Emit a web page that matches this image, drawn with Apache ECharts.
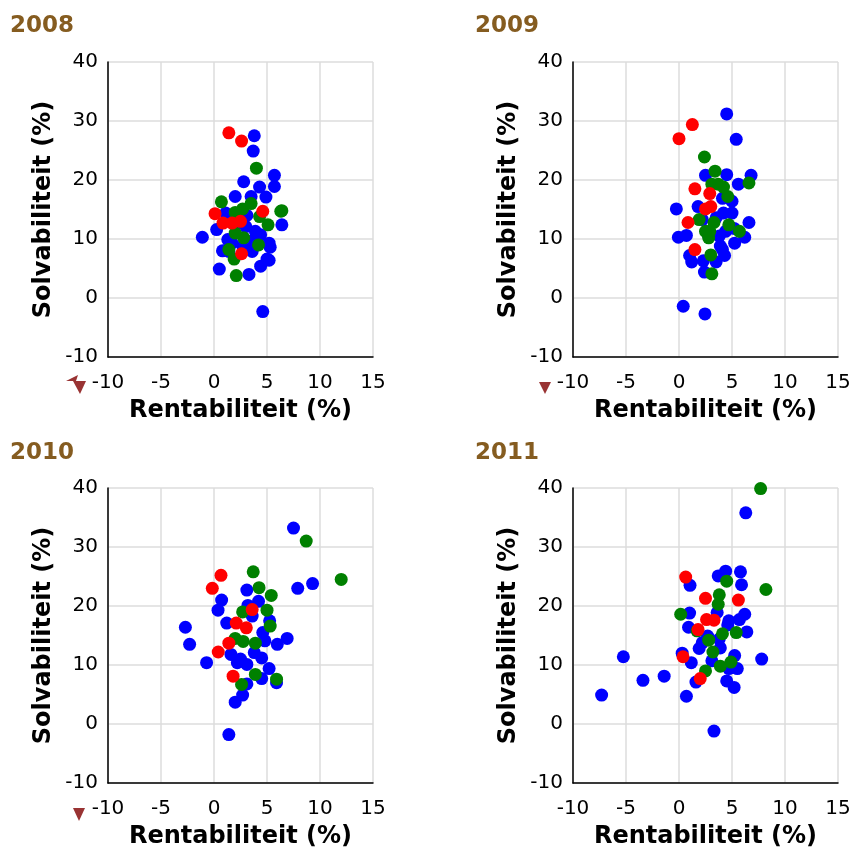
<!DOCTYPE html>
<html>
<head>
<meta charset="utf-8">
<script src="https://cdn.jsdelivr.net/npm/echarts@6/dist/echarts.min.js"></script>
<style>
  html, body { margin: 0; padding: 0; background: #fff; }
  #chart { width: 854px; height: 850px; }
</style>
</head>
<body>
<div id="chart"></div>
<script>
// jaren (panelen)
var years = ['2008', '2009', '2010', '2011']

// [rentabiliteit, solvabiliteit] per jaar, per kleur
var blue2008 = [[3.8,27.5],[3.7,24.9],[5.7,20.8],[5.7,18.9],[2.8,19.7],[4.3,18.8],[4.9,17.1],[2.0,17.2],[3.5,17.2],[1.1,14.4],[3.1,14.0],[6.4,12.4],[-1.1,10.3],[0.25,11.6],[3.9,11.3],[4.4,10.7],[1.3,9.9],[5.2,9.3],[5.3,8.6],[0.8,8.0],[1.4,7.9],[3.6,7.9],[5.0,6.6],[4.4,5.4],[0.5,4.9],[3.3,4.0],[4.6,-2.3],[2.7,13.8],[2.2,12.7],[3.0,12.1],[3.5,9.6],[2.7,8.8],[1.7,9.3],[5.2,6.4]]
var green2008 = [[4.0,22.0],[0.7,16.3],[2.7,15.1],[3.5,16.0],[2.0,14.5],[4.3,13.8],[5.1,12.4],[6.3,14.7],[6.4,14.8],[2.0,11.0],[2.8,10.2],[4.2,9.0],[1.4,8.2],[1.9,6.6],[2.1,3.8]]
var red2008 = [[1.4,28.0],[2.6,26.6],[0.1,14.3],[4.6,14.7],[0.85,12.7],[1.7,12.7],[2.5,13.0],[2.6,7.5]]

var blue2009 = [[4.5,31.2],[5.4,26.9],[2.5,20.8],[4.5,20.9],[6.8,20.8],[5.6,19.3],[4.1,16.9],[5.0,16.4],[-0.25,15.1],[1.8,15.5],[4.2,14.4],[5.0,14.4],[6.6,12.8],[-0.06,10.3],[0.7,10.6],[4.4,11.3],[5.2,11.8],[6.2,10.3],[5.25,9.3],[3.9,8.8],[1.0,7.2],[1.2,6.1],[2.3,6.3],[3.5,6.1],[4.3,7.2],[2.4,4.4],[0.4,-1.4],[2.45,-2.7],[2.8,10.5],[3.8,10.5],[4.1,8.2],[2.2,13.3],[3.5,13.6]]
var green2009 = [[2.4,23.9],[3.4,21.5],[3.1,19.3],[3.7,19.3],[4.2,18.8],[6.6,19.5],[1.9,13.3],[3.3,12.8],[2.5,11.3],[2.9,11.3],[4.7,12.4],[5.7,11.3],[3.0,7.3],[3.1,4.1],[4.6,17.2],[2.8,10.2]]
var red2009 = [[1.26,29.4],[0,27.0],[1.5,18.5],[2.9,17.7],[2.5,15.1],[3.0,15.5],[0.85,12.8],[1.5,8.2]]

var blue2010 = [[7.5,33.2],[9.3,23.8],[7.9,23.0],[3.1,22.7],[0.72,21.0],[0.38,19.3],[4.2,20.8],[3.2,20.1],[5.25,17.5],[1.2,17.1],[-2.7,16.4],[-2.3,13.5],[-0.7,10.4],[6.9,14.5],[5.97,13.5],[4.6,15.5],[4.8,14.1],[1.6,11.8],[2.5,11.0],[4.5,11.2],[5.2,9.4],[4.5,7.7],[5.9,7.0],[3.1,6.8],[2.7,4.9],[2.0,3.7],[1.4,-1.8],[3.1,10.1],[2.2,10.4],[3.6,18.3],[3.8,12.1]]
var green2010 = [[3.7,25.8],[8.7,31.0],[12.0,24.5],[4.25,23.1],[5.4,21.8],[5.0,19.3],[2.7,19.0],[5.3,16.6],[2.75,14.0],[3.9,13.7],[3.9,8.4],[5.9,7.6],[2.6,6.7],[2.0,14.5]]
var red2010 = [[0.66,25.2],[-0.16,23.0],[3.6,19.4],[2.1,17.1],[3.05,16.3],[1.4,13.7],[0.4,12.2],[1.8,8.1]]

var blue2011 = [[6.3,35.8],[4.4,25.9],[5.8,25.8],[3.7,25.1],[1.04,23.5],[5.9,23.6],[3.6,18.9],[1.0,18.8],[6.2,18.6],[5.7,17.7],[4.7,17.5],[0.9,16.4],[6.4,15.6],[4.6,16.8],[3.9,12.9],[1.9,12.8],[0.3,12.0],[5.25,11.6],[7.8,11.0],[-5.25,11.4],[1.16,10.4],[4.7,9.4],[5.5,9.4],[-1.4,8.1],[-3.4,7.4],[1.6,7.1],[4.5,7.3],[5.2,6.2],[-7.3,4.9],[0.7,4.7],[3.3,-1.2],[2.7,14.9],[2.2,13.8],[3.1,10.7],[3.8,14.4]]
var green2011 = [[7.7,39.9],[8.2,22.8],[4.5,24.2],[3.8,21.9],[3.7,20.3],[0.16,18.6],[5.4,15.5],[4.1,15.3],[2.8,14.2],[3.2,12.2],[4.9,10.5],[3.9,9.8],[2.5,9.0],[1.7,15.8]]
var red2011 = [[0.63,24.9],[2.5,21.3],[5.6,21.0],[2.6,17.7],[3.3,17.6],[1.8,16.0],[0.38,11.4],[2.0,7.7]]

var blueData = [blue2008, blue2009, blue2010, blue2011]
var greenData = [green2008, green2009, green2010, green2011]
var redData = [red2008, red2009, red2010, red2011]

// assen
var xMin = -10, xMax = 15, xStep = 5
var yMin = -10, yMax = 40, yStep = 10
var xName = 'Rentabiliteit (%)'
var yName = 'Solvabiliteit (%)'

var chart = echarts.init(document.getElementById('chart'))

var gridPos = [
    { left: 108, top: 62 },
    { left: 573, top: 62 },
    { left: 108, top: 488 },
    { left: 573, top: 488 }
]
var titlePos = [
    { left: 10, top: 15 },
    { left: 475, top: 15 },
    { left: 10, top: 442 },
    { left: 475, top: 442 }
]

var font = 'DejaVu Sans, Verdana, sans-serif'
var grids = [], xAxes = [], yAxes = [], series = [], titles = []

for (var i = 0; i < years.length; i++) {
    grids.push({ left: gridPos[i].left, top: gridPos[i].top, width: 265, height: 295 })
    titles.push({
        text: years[i],
        left: titlePos[i].left,
        top: titlePos[i].top,
        padding: 0,
        textStyle: { color: '#855c20', fontSize: 23, fontWeight: 'bold', fontFamily: font }
    })
    xAxes.push({
        gridIndex: i,
        type: 'value',
        min: xMin, max: xMax, interval: xStep,
        name: xName,
        nameLocation: 'middle',
        nameGap: 42,
        nameTextStyle: { color: '#000', fontSize: 24, fontWeight: 'bold', fontFamily: font },
        axisLine: { onZero: false, lineStyle: { color: '#000', width: 1.5 } },
        axisTick: { show: false },
        axisLabel: { color: '#000', fontSize: 20, fontFamily: font, margin: 16 },
        splitLine: { show: true, lineStyle: { color: '#dcdcdc', width: 1.5 } }
    })
    yAxes.push({
        gridIndex: i,
        type: 'value',
        min: yMin, max: yMax, interval: yStep,
        name: yName,
        nameLocation: 'middle',
        nameGap: 52,
        nameTextStyle: { color: '#000', fontSize: 24, fontWeight: 'bold', fontFamily: font },
        axisLine: { show: true, onZero: false, lineStyle: { color: '#000', width: 1.5 } },
        axisTick: { show: false },
        axisLabel: { color: '#000', fontSize: 20, fontFamily: font, margin: 10 },
        splitLine: { show: true, lineStyle: { color: '#dcdcdc', width: 1.5 } }
    })
    var sets = [[blueData[i], '#0000ff'], [greenData[i], '#008000'], [redData[i], '#ff0000']]
    for (var k = 0; k < sets.length; k++) {
        series.push({
            type: 'scatter',
            xAxisIndex: i,
            yAxisIndex: i,
            symbolSize: 13,
            itemStyle: { color: sets[k][1], opacity: 1 },
            data: sets[k][0]
        })
    }
}

// kleine rode pijltjes onder de panelen
var markColor = '#993333'
var graphic = [
    { type: 'polygon', shape: { points: [[66, 381], [78, 375], [76, 381]] }, style: { fill: markColor } },
    { type: 'polygon', shape: { points: [[73, 381], [86, 381], [80, 394]] }, style: { fill: markColor } },
    { type: 'polygon', shape: { points: [[539, 382], [551, 382], [545, 394]] }, style: { fill: markColor } },
    { type: 'polygon', shape: { points: [[73, 808], [85, 808], [79, 821]] }, style: { fill: markColor } }
]

var option = {
    animation: false,
    title: titles,
    grid: grids,
    xAxis: xAxes,
    yAxis: yAxes,
    series: series,
    graphic: graphic
}
chart.setOption(option)
</script>
</body>
</html>
